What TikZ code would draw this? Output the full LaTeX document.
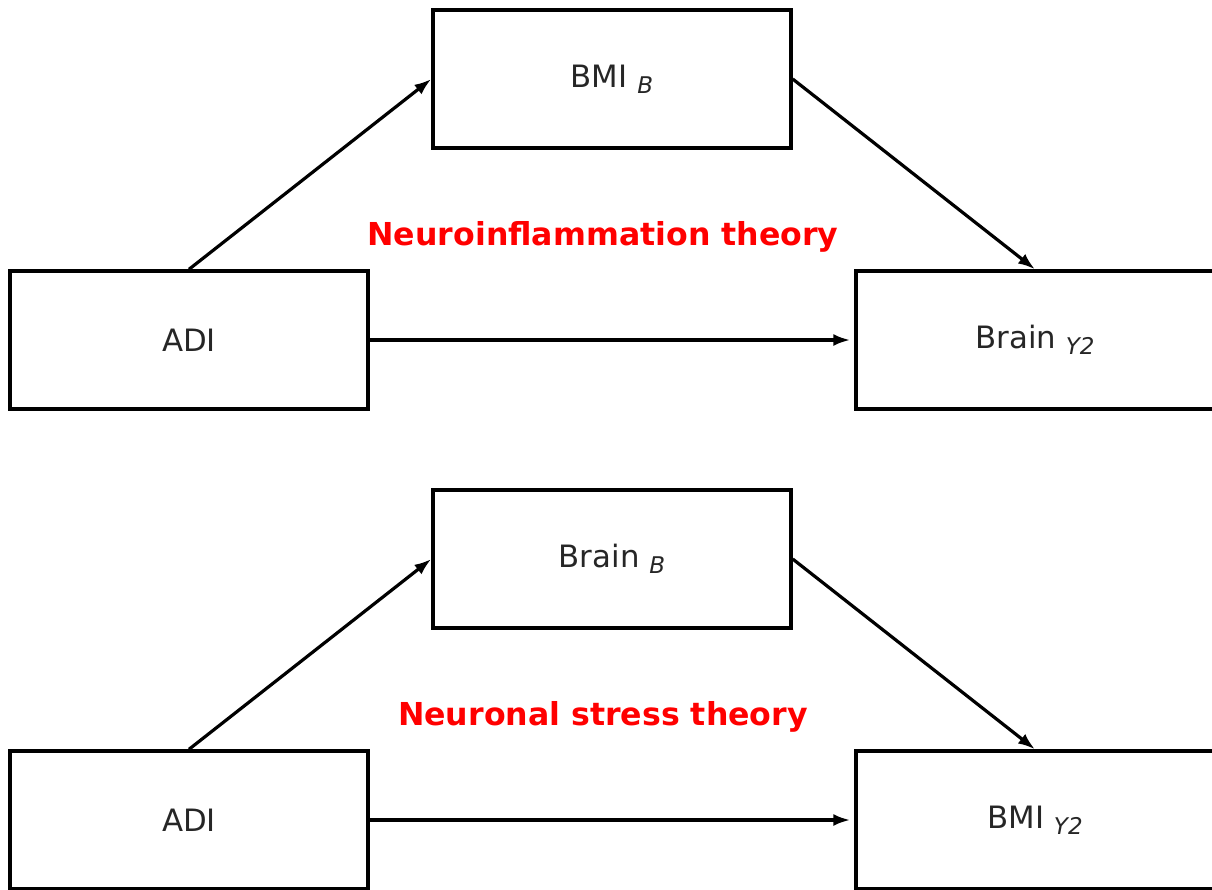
\documentclass[tikz,border=0pt]{standalone}
\usepackage{fontspec}
\setmainfont{DejaVu Sans}
\usetikzlibrary{arrows.meta}

\newcommand{\lowsub}[1]{\raisebox{-0.35ex}{\fontsize{11.5}{12}\selectfont\itshape #1}}

\tikzset{
	varbox/.style={draw, line width=1.7pt, minimum width=179pt, minimum height=69pt, font=\fontsize{15.4}{17}\selectfont, text=black!85},
	theory/.style={text=red, font=\bfseries\fontsize{15.8}{17}\selectfont},
	path/.style={line width=1.6pt, -{Latex[length=8.5pt,width=6pt]}}
}

\begin{document}
\begin{tikzpicture}[x=0.5pt, y=-0.5pt]
			\useasboundingbox (0,0) rectangle (1212,890);
			% upper model
			\node[varbox] (adiA) at (189,340) {ADI};
			\node[varbox] (bmiB) at (612,79) {BMI \lowsub{B}};
			\node[varbox] (brainY) at (1035,340) {Brain \lowsub{Y2}};
			\node[theory] (neuroinfl) at (603,237) {Neuroinflammation theory};
			\draw[path] (adiA.north) -- (bmiB.west);
			\draw[path] (bmiB.east) -- (brainY.north);
			\draw[path] (adiA.east) -- ([xshift=-2pt]brainY.west);
			% lower model
			\node[varbox] (adiB) at (189,820) {ADI};
			\node[varbox] (brainB) at (612,559) {Brain \lowsub{B}};
			\node[varbox] (bmiY) at (1035,820) {BMI \lowsub{Y2}};
			\node[theory] (neurostress) at (603,717) {Neuronal stress theory};
			\draw[path] (adiB.north) -- (brainB.west);
			\draw[path] (brainB.east) -- (bmiY.north);
			\draw[path] (adiB.east) -- ([xshift=-2pt]bmiY.west);
		\end{tikzpicture}
\end{document}
